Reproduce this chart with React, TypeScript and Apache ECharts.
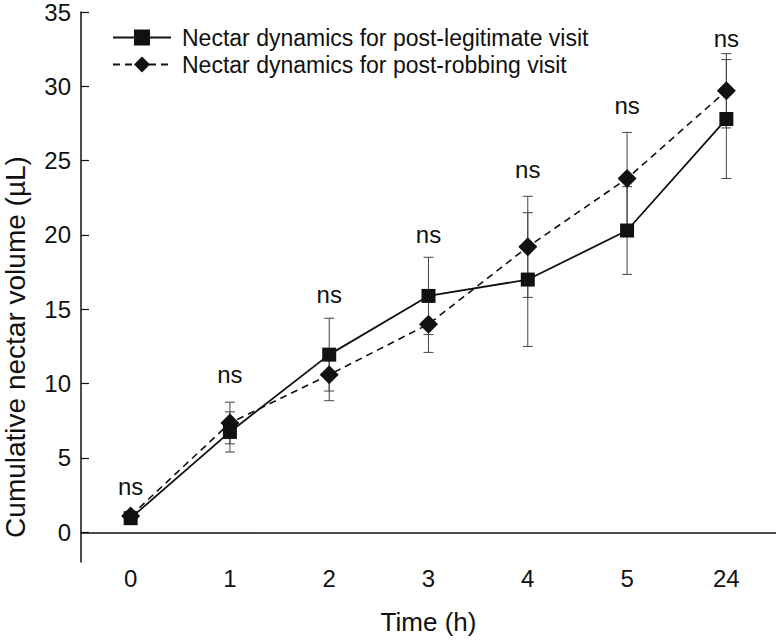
import React, { useEffect, useRef } from "react";
import * as echarts from "echarts";

const categories = ["0", "1", "2", "3", "4", "5", "24"];
const legitName = "Nectar dynamics for post-legitimate visit";
const robName = "Nectar dynamics for post-robbing visit";
const legitMean = [0.95, 6.75, 11.95, 15.9, 17.0, 20.3, 27.8];
const legitSE = [0.2, 1.35, 2.45, 2.6, 4.5, 2.95, 4.0];
const robMean = [1.1, 7.35, 10.6, 14.0, 19.2, 23.8, 29.7];
const robSE = [0.2, 1.4, 1.75, 1.9, 3.4, 3.1, 2.5];
const sigLabels = ["ns", "ns", "ns", "ns", "ns", "ns", "ns"];
const sigY = [3.1, 10.6, 16.0, 20.0, 24.4, 28.7, 33.2];
const yTicks = [0, 5, 10, 15, 20, 25, 30, 35];
const yTitle = "Cumulative nectar volume (µL)";
const xTitle = "Time (h)";

const FONT = "'Liberation Sans', Arial, Helvetica, sans-serif";
const INK = "#111";

function errData(mean: number[], se: number[]) {
  return mean.map((m, i) => [i, m - se[i], m + se[i]]);
}

const errorRender = (params: any, api: any) => {
  const x = api.value(0);
  const lo = api.coord([x, api.value(1)]);
  const hi = api.coord([x, api.value(2)]);
  const w = 5;
  const style = { stroke: "#444", lineWidth: 1 };
  return {
    type: "group",
    children: [
      { type: "line", shape: { x1: hi[0], y1: hi[1], x2: lo[0], y2: lo[1] }, style },
      { type: "line", shape: { x1: hi[0] - w, y1: hi[1], x2: hi[0] + w, y2: hi[1] }, style },
      { type: "line", shape: { x1: lo[0] - w, y1: lo[1], x2: lo[0] + w, y2: lo[1] }, style },
    ],
  };
};

export default function App() {
  const ref = useRef<HTMLDivElement>(null);
  useEffect(() => {
    if (!ref.current) return;
    const chart = echarts.init(ref.current, undefined, { renderer: "svg" });
    chart.setOption({
      animation: false,
      backgroundColor: "#fff",
      textStyle: { fontFamily: FONT, color: INK },
      grid: { left: 81, top: 12, width: 700, height: 568, containLabel: false },
      legend: {
        data: [legitName, robName],
        orient: "vertical",
        left: 107,
        top: 21,
        itemWidth: 58,
        itemHeight: 20,
        itemGap: 4,
        textStyle: { fontFamily: FONT, fontSize: 23, color: INK, padding: [0, 0, 0, 6] },
      },
      xAxis: {
        type: "category",
        data: categories,
        boundaryGap: true,
        axisLine: { lineStyle: { color: INK, width: 1.5 } },
        axisTick: { inside: true, length: 8, alignWithLabel: true, lineStyle: { color: INK, width: 1.2 } },
        axisLabel: { fontSize: 24, color: INK, margin: 4, fontFamily: FONT },
        splitLine: { show: false },
        name: xTitle,
        nameLocation: "middle",
        nameGap: 47,
        nameTextStyle: { fontSize: 26, color: INK, fontFamily: FONT },
      },
      yAxis: {
        type: "value",
        min: -2,
        max: 35,
        axisLine: { show: true, lineStyle: { color: INK, width: 1.5 } },
        axisTick: { show: true, inside: true, length: 8, customValues: yTicks, lineStyle: { color: INK, width: 1.2 } },
        axisLabel: { fontSize: 24, color: INK, margin: 10, customValues: yTicks, fontFamily: FONT },
        splitLine: { show: false },
      },
      graphic: [
        {
          type: "text",
          x: 15,
          y: 347,
          rotation: Math.PI / 2,
          style: {
            text: yTitle,
            font: `28px ${FONT}`,
            fill: INK,
            textAlign: "center",
            textVerticalAlign: "middle",
          },
        },
      ],
      series: [
        {
          type: "custom",
          name: "legitErr",
          renderItem: errorRender,
          data: errData(legitMean, legitSE),
          z: 1,
          silent: true,
        },
        {
          type: "custom",
          name: "robErr",
          renderItem: errorRender,
          data: errData(robMean, robSE),
          z: 1,
          silent: true,
        },
        {
          type: "line",
          name: legitName,
          data: legitMean,
          symbol: "rect",
          symbolSize: 14,
          lineStyle: { color: INK, width: 1.8, type: "solid" },
          itemStyle: { color: INK },
          z: 3,
        },
        {
          type: "line",
          name: robName,
          data: robMean,
          symbol: "diamond",
          symbolSize: 19,
          lineStyle: { color: INK, width: 1.6, type: [7, 5] },
          itemStyle: { color: INK },
          z: 4,
        },
        {
          type: "scatter",
          name: "sig",
          data: sigY,
          symbolSize: 2,
          itemStyle: { color: "rgba(0,0,0,0)" },
          label: {
            show: true,
            position: "inside",
            formatter: (p: any) => sigLabels[p.dataIndex],
            fontSize: 24,
            color: INK,
            opacity: 1,
            textBorderWidth: 0,
            textBorderColor: "transparent",
            fontFamily: FONT,
          },
          z: 5,
        },
      ],
    });
    return () => chart.dispose();
  }, []);
  return (
    <div
      ref={ref}
      style={{ position: "absolute", left: 0, top: 0, width: 776, height: 640 }}
    />
  );
}
